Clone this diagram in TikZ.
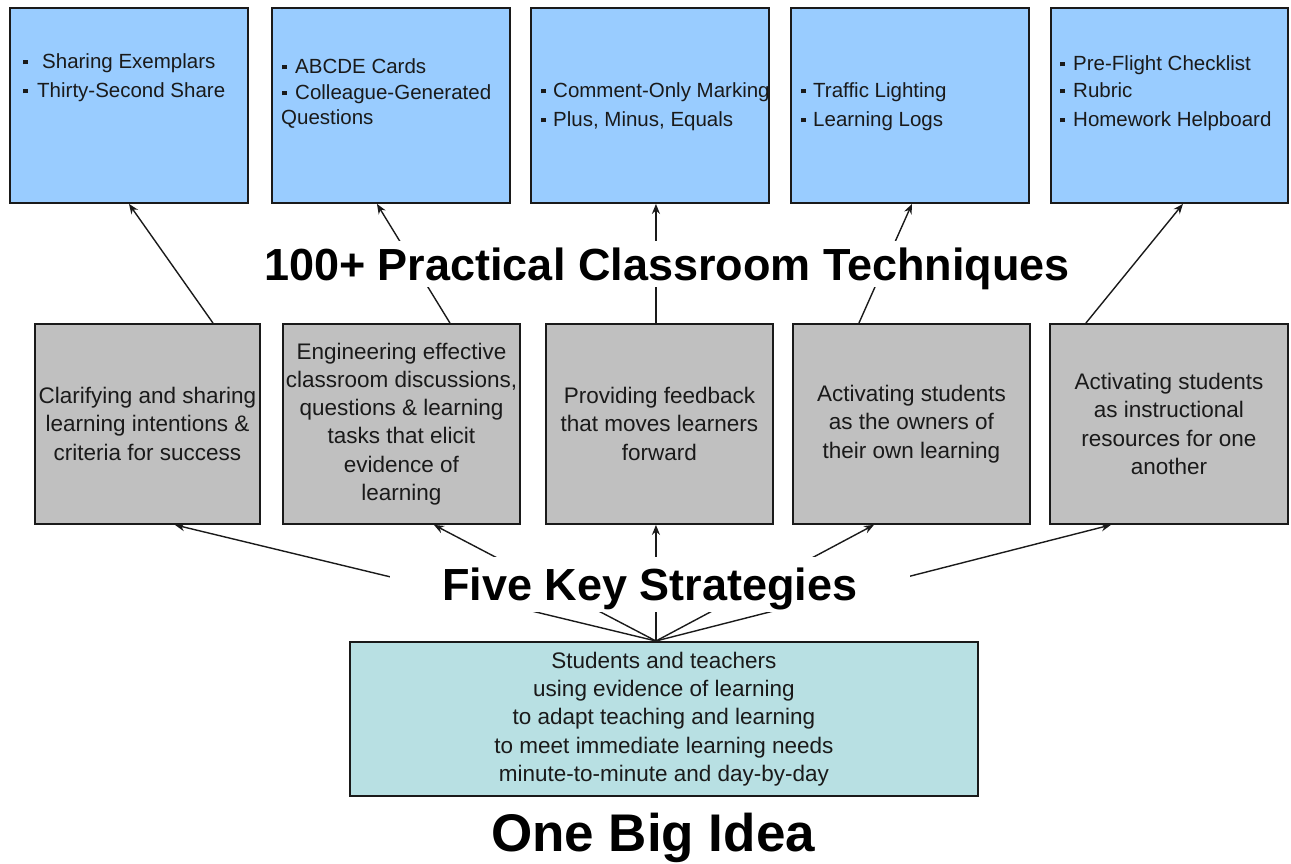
\documentclass[tikz,border=0pt]{standalone}
\usepackage{fontspec}
\setmainfont{Liberation Sans}
\usetikzlibrary{arrows.meta}
\definecolor{bluefill}{HTML}{99CCFF}
\definecolor{grayfill}{HTML}{C0C0C0}
\definecolor{tealfill}{HTML}{B8E0E3}
\definecolor{ink}{HTML}{1A1A1A}
\newcommand{\bul}{\raisebox{4.7pt}{\rule{4.5pt}{4.5pt}}}
\begin{document}
\begin{tikzpicture}[x=1pt,y=-1pt,
  box/.style={draw=ink, line width=1.9pt, inner sep=0pt, anchor=north west},
  bluebox/.style={box, fill=bluefill, minimum width=238pt, minimum height=195pt},
  graybox/.style={box, fill=grayfill, minimum height=200pt, align=center, text=ink,
     font=\fontsize{22.5}{28.3}\selectfont},
  tealbox/.style={box, fill=tealfill, minimum width=628pt, minimum height=154pt, align=center, text=ink,
     font=\fontsize{22.5}{28.3}\selectfont},
  btxt/.style={inner sep=0pt, anchor=base west, text=ink, font=\fontsize{20.5}{24}\selectfont},
  heading/.style={inner sep=0pt, anchor=base, text=black, font=\fontsize{45}{54}\selectfont\bfseries},
  arr/.style={draw=ink, line width=1.4pt, -{Stealth[length=10pt,width=8pt]}}
]
\useasboundingbox (0,0) rectangle (1291,864);

% top row
\node[bluebox] (b1) at (9,7) {};
\node[bluebox] (b2) at (271,7) {};
\node[bluebox] (b3) at (530,7) {};
\node[bluebox] (b4) at (790,7) {};
\node[bluebox, minimum width=237pt] (b5) at (1050,7) {};

\node[btxt] (t11) at (23,69) {\bul\hspace{14.5pt}Sharing Exemplars};
\node[btxt] (t12) at (23,98) {\bul\hspace{9.5pt}Thirty-Second Share};
\node[btxt] (t21) at (282,74) {\bul\hspace{8.5pt}ABCDE Cards};
\node[btxt] (t22) at (282,100) {\bul\hspace{8.5pt}Colleague-Generated};
\node[btxt] (t23) at (281,125) {Questions};
\begin{scope}
\clip ([xshift=1pt]b3.south west) rectangle ([xshift=-1pt]b3.north east);
\node[btxt] (t31) at (541,98) {\bul\hspace{7.5pt}Comment-Only Marking};
\end{scope}
\node[btxt] (t32) at (541,127) {\bul\hspace{7.5pt}Plus, Minus, Equals};
\node[btxt] (t41) at (801,98) {\bul\hspace{7.5pt}Traffic Lighting};
\node[btxt] (t42) at (801,127) {\bul\hspace{7.5pt}Learning Logs};
\node[btxt] (t51) at (1060,71) {\bul\hspace{8.5pt}Pre-Flight Checklist};
\node[btxt] (t52) at (1060,98) {\bul\hspace{8.5pt}Rubric};
\node[btxt] (t53) at (1060,127) {\bul\hspace{8.5pt}Homework Helpboard};

% middle row
\node[graybox, minimum width=225pt] (g1) at (34,323) {Clarifying and sharing\\learning intentions \&\\criteria for success};
\node[graybox, minimum width=237pt] (g2) at (282,323) {Engineering effective\\classroom discussions,\\questions \& learning\\tasks that elicit\\evidence of\\learning};
\node[graybox, minimum width=227pt] (g3) at (545,323) {Providing feedback\\that moves learners\\forward};
\node[graybox, minimum width=237pt] (g4) at (792,323) {Activating students\\as the owners of\\their own learning};
\node[graybox, minimum width=238pt] (g5) at (1049,323) {Activating students\\as instructional\\resources for one\\another};

% bottom box
\node[tealbox] (idea) at (349,641) {Students and teachers\\using evidence of learning\\to adapt teaching and learning\\to meet immediate learning needs\\minute-to-minute and day-by-day};

% arrows: strategies -> techniques
\draw[arr] ([xshift=65.5pt]g1.north) -- (b1.south);
\draw[arr] ([xshift=48.5pt]g2.north) -- ([xshift=-14pt]b2.south);
\draw[arr] ([xshift=-3.5pt]g3.north) -- ([xshift=6pt]b3.south);
\draw[arr] ([xshift=-52.5pt]g4.north) -- ([xshift=2pt]b4.south);
\draw[arr] ([xshift=-83pt]g5.north) -- ([xshift=13.5pt]b5.south);

% arrows: big idea -> strategies
\draw[arr] ([xshift=-8pt]idea.north) -- ([xshift=27.5pt]g1.south);
\draw[arr] ([xshift=-8pt]idea.north) -- ([xshift=32.5pt]g2.south);
\draw[arr] ([xshift=-8pt]idea.north) -- ([xshift=-3.5pt]g3.south);
\draw[arr] ([xshift=-8pt]idea.north) -- ([xshift=-37.5pt]g4.south);
\draw[arr] ([xshift=-8pt]idea.north) -- ([xshift=-58pt]g5.south);

% headings
\node[heading, fill=white, text height=39pt, text depth=7pt] (tech) at (667,280) {100+ Practical Classroom Techniques};
\node[heading, fill=white, text height=43pt, text depth=12pt, minimum width=520pt] (five) at (650,600) {Five Key Strategies};
\node[heading, font=\fontsize{53}{60}\selectfont\bfseries] (big) at (653,851) {One Big Idea};
\end{tikzpicture}
\end{document}
